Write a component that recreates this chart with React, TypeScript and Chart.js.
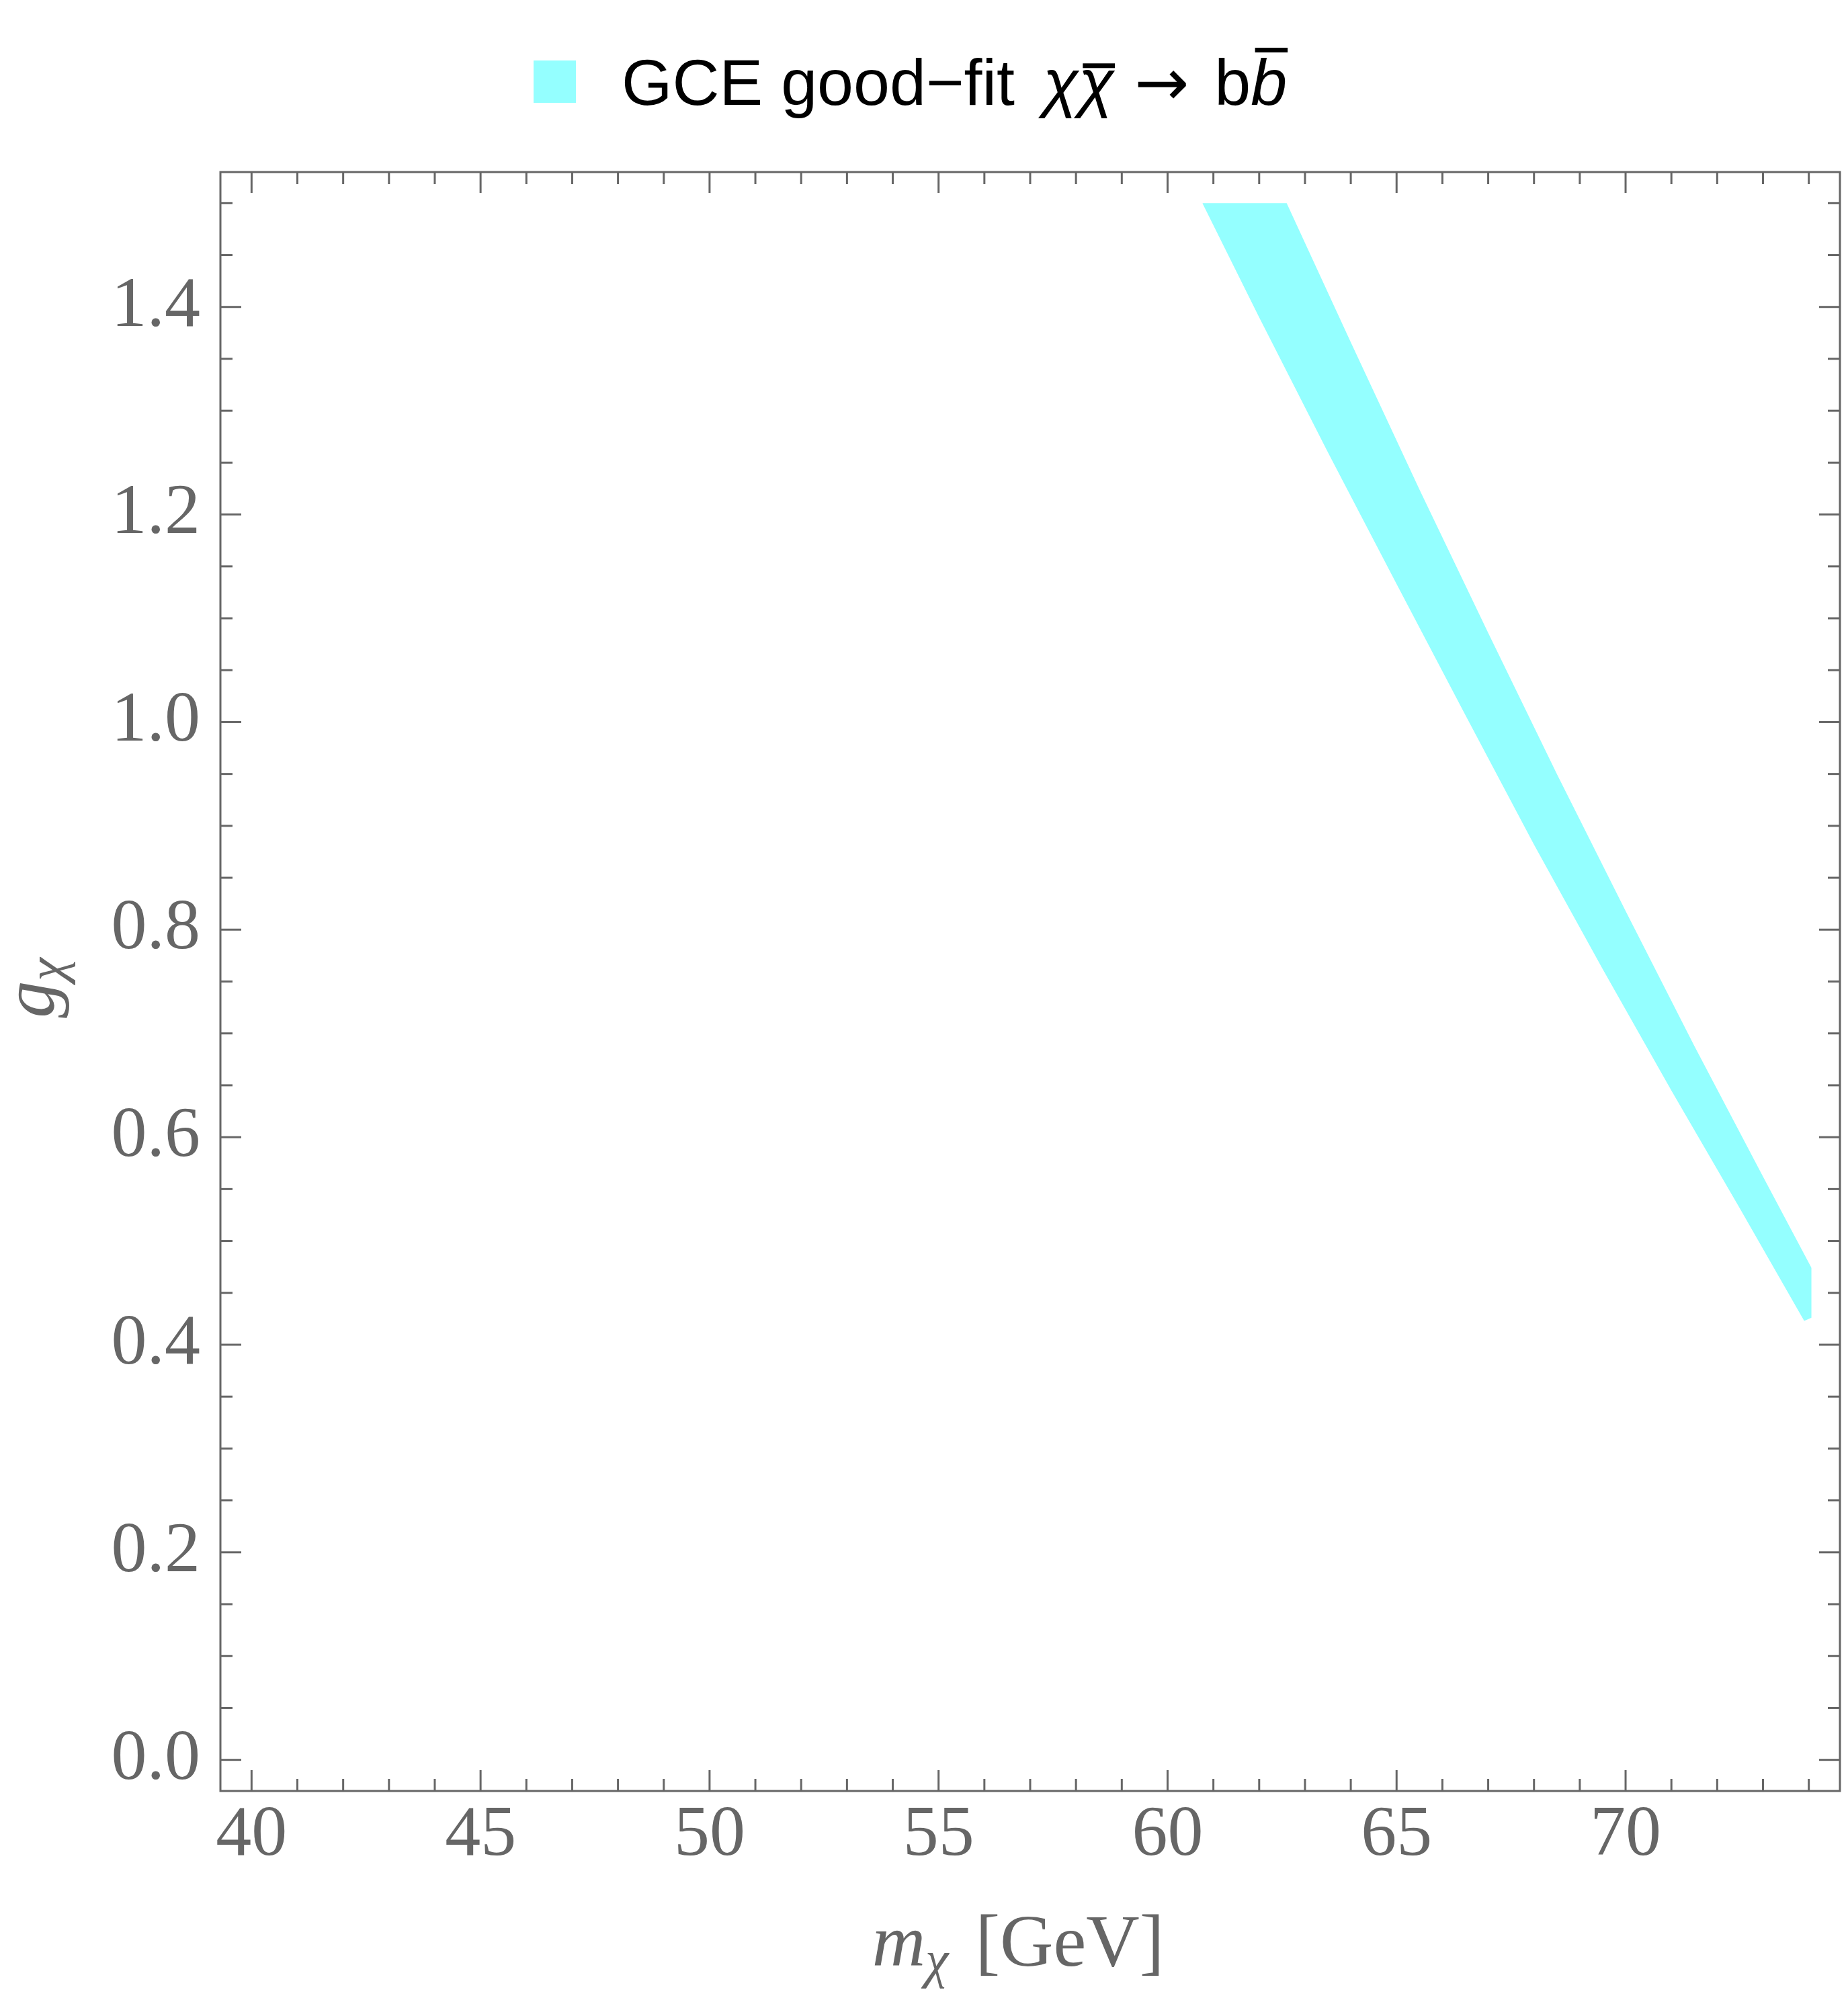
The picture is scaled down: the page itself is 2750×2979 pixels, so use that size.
import React, { useEffect, useRef } from "react";
import { Chart, registerables } from "chart.js";

Chart.register(...registerables);

// ---- data ----
// lower (left) edge of the GCE good-fit band
const lowerMass = [60.76, 62.0, 63.5, 65.0, 66.5, 68.0, 69.5, 71.0, 72.5, 73.9, 74.06];
const lowerG = [1.5, 1.39, 1.26, 1.133, 1.007, 0.882, 0.762, 0.645, 0.531, 0.423, 0.426];
// upper (right) edge of the band (clipped at g = 1.5)
const upperMass = [60.76, 62.6, 64.0, 65.5, 67.0, 68.5, 70.0, 71.5, 73.0, 74.06];
const upperG = [1.5, 1.5, 1.366, 1.224, 1.086, 0.95, 0.818, 0.688, 0.562, 0.474];

const xMajorTicks = [40, 45, 50, 55, 60, 65, 70];
const xTickLabels = ["40", "45", "50", "55", "60", "65", "70"];
const yMajorTicks = [0, 0.2, 0.4, 0.6, 0.8, 1.0, 1.2, 1.4];
const yTickLabels = ["0.0", "0.2", "0.4", "0.6", "0.8", "1.0", "1.2", "1.4"];
const xMinorTicks = [41, 42, 43, 44, 46, 47, 48, 49, 51, 52, 53, 54, 56, 57, 58, 59, 61, 62, 63, 64, 66, 67, 68, 69, 71, 72, 73, 74];
const yMinorTicks = [0.05, 0.1, 0.15, 0.25, 0.3, 0.35, 0.45, 0.5, 0.55, 0.65, 0.7, 0.75, 0.85, 0.9, 0.95, 1.05, 1.1, 1.15, 1.25, 1.3, 1.35, 1.45, 1.5];
const xLimits = [39.32, 74.68];
const yLimits = [-0.03, 1.53];

const legendLabel = ["GCE good\u2212fit", "\u03c7", "\u03c7", "\u2192", "b", "b"];

// ---- styles ----
const BAND = "rgb(148,255,255)";
const FRAME = "#666666";
const SERIF = "'Liberation Serif', 'Times New Roman', serif";
const SANS = "'Liberation Sans', Arial, sans-serif";
const ARROW_FONT = "'DejaVu Sans', sans-serif";

const framePlugin = {
  id: "mmaFrame",
  afterDraw(chart: any) {
    const { ctx, chartArea: a, scales } = chart;
    const xs = scales.x;
    const ys = scales.y;
    ctx.save();
    ctx.strokeStyle = FRAME;
    ctx.lineWidth = 3;
    ctx.lineCap = "butt";
    ctx.strokeRect(a.left, a.top, a.right - a.left, a.bottom - a.top);
    const seg = (x1: number, y1: number, x2: number, y2: number) => {
      ctx.beginPath();
      ctx.moveTo(x1, y1);
      ctx.lineTo(x2, y2);
      ctx.stroke();
    };
    const MAJ = 31;
    const MIN = 18;
    for (const v of xMajorTicks) {
      const p = xs.getPixelForValue(v);
      seg(p, a.bottom, p, a.bottom - MAJ);
      seg(p, a.top, p, a.top + MAJ);
    }
    for (const v of xMinorTicks) {
      const p = xs.getPixelForValue(v);
      seg(p, a.bottom, p, a.bottom - MIN);
      seg(p, a.top, p, a.top + MIN);
    }
    for (const v of yMajorTicks) {
      const p = ys.getPixelForValue(v);
      seg(a.left, p, a.left + MAJ, p);
      seg(a.right, p, a.right - MAJ, p);
    }
    for (const v of yMinorTicks) {
      const p = ys.getPixelForValue(v);
      seg(a.left, p, a.left + MIN, p);
      seg(a.right, p, a.right - MIN, p);
    }

    // x axis title: m_chi [GeV]
    ctx.fillStyle = FRAME;
    ctx.textBaseline = "alphabetic";
    ctx.textAlign = "left";
    const T = 110;
    const TS = 78;
    const mainIt = `italic ${T}px ${SERIF}`;
    const subIt = `italic ${TS}px ${SERIF}`;
    const mainUp = `${T}px ${SERIF}`;
    ctx.font = mainIt;
    const wm = ctx.measureText("m").width;
    ctx.font = subIt;
    const wc = ctx.measureText("\u03c7").width;
    ctx.font = mainUp;
    const wg = ctx.measureText("[GeV]").width;
    const gap = 40;
    const total = wm + wc + gap + wg;
    const cx = 1515;
    const by = 2925;
    let x = cx - total / 2;
    ctx.font = mainIt;
    ctx.fillText("m", x, by);
    x += wm;
    ctx.font = subIt;
    ctx.fillText("\u03c7", x, by + 17);
    x += wc + gap;
    ctx.font = mainUp;
    ctx.fillText("[GeV]", x, by);

    // y axis title: g_chi (rotated)
    ctx.save();
    ctx.translate(80, 1470);
    ctx.rotate(-Math.PI / 2);
    ctx.font = mainIt;
    const wgl = ctx.measureText("g").width;
    ctx.font = subIt;
    const wch = ctx.measureText("\u03c7").width;
    let t = -(wgl + wch) / 2;
    ctx.font = mainIt;
    ctx.fillText("g", t, 0);
    t += wgl;
    ctx.font = subIt;
    ctx.fillText("\u03c7", t, 15);
    ctx.restore();

    // legend
    ctx.fillStyle = BAND;
    ctx.fillRect(794, 90, 63, 63);
    const S = 97;
    const reg = `${S}px ${SANS}`;
    const ita = `italic ${S}px ${SANS}`;
    const arr = `${S}px ${ARROW_FONT}`;
    const parts = [
      { t: legendLabel[0], f: reg, bar: 0, gap: 42 },
      { t: legendLabel[1], f: ita, bar: 0, gap: 0 },
      { t: legendLabel[2], f: ita, bar: 0.6, gap: 30 },
      { t: legendLabel[3], f: arr, bar: 0, gap: 38 },
      { t: legendLabel[4], f: reg, bar: 0, gap: 0 },
      { t: legendLabel[5], f: ita, bar: 0.84, gap: 0 },
    ];
    let lx = 925;
    const ly = 156;
    ctx.fillStyle = "#000";
    for (const p of parts) {
      ctx.font = p.f;
      const w = ctx.measureText(p.t).width;
      ctx.fillText(p.t, lx, ly);
      if (p.bar) {
        const yb = ly - p.bar * S;
        ctx.fillRect(lx + w * 0.12, yb - 3.5, w * 0.9, 7);
      }
      lx += w + p.gap;
    }
    ctx.restore();
  },
};

export default function App() {
  const ref = useRef<HTMLCanvasElement | null>(null);
  useEffect(() => {
    document.body.style.margin = "0";
    const canvas = ref.current;
    if (!canvas) return;
    const lower = lowerMass.map((m, i) => ({ x: m, y: lowerG[i] }));
    const upper = upperMass.map((m, i) => ({ x: m, y: upperG[i] }));
    const tickFont = { family: SERIF, size: 106 };
    const chart = new Chart(canvas, {
      type: "line",
      data: {
        datasets: [
          {
            label: "lower",
            data: lower,
            borderColor: "rgba(0,0,0,0)",
            borderWidth: 0,
            pointRadius: 0,
            backgroundColor: BAND,
            fill: false,
            tension: 0,
          },
          {
            label: "GCE good-fit",
            data: upper,
            borderColor: "rgba(0,0,0,0)",
            borderWidth: 0,
            pointRadius: 0,
            backgroundColor: BAND,
            fill: "-1",
            tension: 0,
          },
        ],
      },
      options: {
        animation: false,
        responsive: false,
        devicePixelRatio: 1,
        layout: { padding: { top: 256, right: 12, left: 0, bottom: 0 } },
        plugins: { legend: { display: false }, tooltip: { enabled: false } },
        scales: {
          x: {
            type: "linear",
            position: "bottom",
            min: xLimits[0],
            max: xLimits[1],
            grid: { display: false, drawTicks: false },
            border: { display: false },
            afterBuildTicks: (s: any) => {
              s.ticks = xMajorTicks.map((v) => ({ value: v }));
            },
            afterFit: (s: any) => {
              s.height = 314;
            },
            ticks: {
              autoSkip: false,
              maxRotation: 0,
              padding: 4,
              color: FRAME,
              font: tickFont,
              callback: (_v: any, i: number) => xTickLabels[i],
            },
          },
          y: {
            type: "linear",
            position: "left",
            min: yLimits[0],
            max: yLimits[1],
            grid: { display: false, drawTicks: false },
            border: { display: false },
            afterBuildTicks: (s: any) => {
              s.ticks = yMajorTicks.map((v) => ({ value: v }));
            },
            afterFit: (s: any) => {
              s.width = 328;
            },
            ticks: {
              autoSkip: false,
              padding: 30,
              color: FRAME,
              font: tickFont,
              callback: (_v: any, i: number) => yTickLabels[i],
            },
          },
        },
      },
      plugins: [framePlugin],
    } as any);
    return () => chart.destroy();
  }, []);
  return (
    <div style={{ width: 2750, height: 2979, background: "#fff" }}>
      <canvas ref={ref} width={2750} height={2979} style={{ display: "block" }} />
    </div>
  );
}
